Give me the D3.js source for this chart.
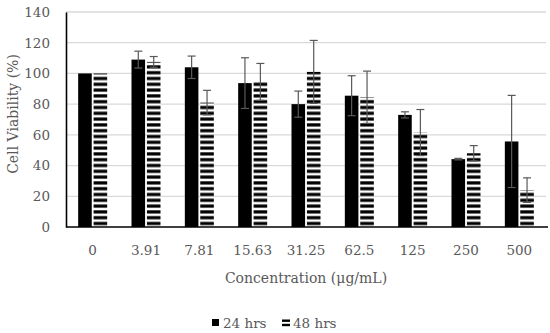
<!DOCTYPE html>
<html>
<head>
<meta charset="utf-8">
<script src="https://cdn.jsdelivr.net/npm/d3@7"></script>
<style>
  body { margin: 0; background: #fff; }
  text { font-family: "DejaVu Serif", serif; fill: #595959; }
</style>
</head>
<body>
<div id="chart"></div>
<script>
// data
var concentrations = ["0", "3.91", "7.81", "15.63", "31.25", "62.5", "125", "250", "500"];
var viability24 = [100, 109, 104, 93.7, 80, 85.5, 73, 44.2, 55.7];
var error24     = [0, 5.5, 7.3, 16.5, 8.5, 13, 2, 0.5, 30];
var viability48 = [100, 107.5, 81, 94.5, 101, 84.5, 61.5, 48, 24];
var error48     = [0, 3.5, 8, 12, 20.5, 17, 15, 5, 8];
var seriesNames = ["24 hrs", "48 hrs"];
var yTicks = [0, 20, 40, 60, 80, 100, 120, 140];

var data = concentrations.map(function(c, i) {
  return [
    {conc: c, series: seriesNames[0], value: viability24[i], err: error24[i]},
    {conc: c, series: seriesNames[1], value: viability48[i], err: error48[i]}
  ];
});

// set the dimensions and margins of the graph
var margin = {top: 12, right: 4, bottom: 106, left: 66},
  width = 550 - margin.left - margin.right,
  height = 333 - margin.top - margin.bottom;

var svg = d3.select("#chart").append("svg")
  .attr("width", 550)
  .attr("height", 333);

var defs = svg.append("defs");
var pat = defs.append("pattern")
  .attr("id", "stripes")
  .attr("patternUnits", "userSpaceOnUse")
  .attr("width", 8)
  .attr("height", 5.8)
  .attr("y", margin.top + height);
pat.append("rect").attr("width", 8).attr("height", 5.8).attr("fill", "#fff");
pat.append("rect").attr("y", 0.3).attr("width", 8).attr("height", 3.2).attr("fill", "#000");

var g = svg.append("g")
  .attr("transform", "translate(" + margin.left + "," + margin.top + ")");

// set the ranges
var x = d3.scaleBand()
  .domain(concentrations)
  .range([0, 480]);

var xs = d3.scaleBand()
  .domain(seriesNames)
  .range([x.bandwidth() / 2 - 14.5, x.bandwidth() / 2 + 14.5])
  .paddingInner(0.12);

var y = d3.scaleLinear()
  .domain([0, 140])
  .range([height, 0]);

// gridlines
g.selectAll(".grid")
  .data(yTicks.filter(function(d) { return d > 0; }))
  .enter().append("line")
  .attr("x1", 0)
  .attr("x2", 480)
  .attr("y1", function(d) { return y(d); })
  .attr("y2", function(d) { return y(d); })
  .attr("stroke", "#d9d9d9")
  .attr("stroke-width", 1.3);

// bars
var groups = g.selectAll(".grp")
  .data(data)
  .enter().append("g")
  .attr("transform", function(d) { return "translate(" + x(d[0].conc) + ",0)"; });

groups.selectAll("rect")
  .data(function(d) { return d; })
  .enter().append("rect")
  .attr("x", function(d) { return xs(d.series); })
  .attr("width", xs.bandwidth())
  .attr("y", function(d) { return y(d.value); })
  .attr("height", function(d) { return height - y(d.value); })
  .attr("fill", function(d) { return d.series === seriesNames[0] ? "#000" : "url(#stripes)"; });

// error bars
var eb = groups.selectAll(".err")
  .data(function(d) { return d.filter(function(e) { return e.err > 0; }); })
  .enter().append("g")
  .attr("stroke", "#595959")
  .attr("stroke-width", 1.2);

eb.append("line")
  .attr("x1", function(d) { return xs(d.series) + xs.bandwidth() / 2; })
  .attr("x2", function(d) { return xs(d.series) + xs.bandwidth() / 2; })
  .attr("y1", function(d) { return y(d.value + d.err); })
  .attr("y2", function(d) { return y(d.value - d.err); });

[1, -1].forEach(function(s) {
  eb.append("line")
    .attr("x1", function(d) { return xs(d.series) + xs.bandwidth() / 2 - 4; })
    .attr("x2", function(d) { return xs(d.series) + xs.bandwidth() / 2 + 4; })
    .attr("y1", function(d) { return y(d.value + s * d.err); })
    .attr("y2", function(d) { return y(d.value + s * d.err); });
});

// add the y Axis
var yAxis = g.append("g")
  .call(d3.axisLeft(y).tickValues(yTicks).tickSize(0).tickPadding(16));
yAxis.select(".domain").attr("stroke", "#000").attr("stroke-width", 1.6);
yAxis.selectAll("text").style("font-size", "13.5px").style("font-family", "DejaVu Serif").attr("fill", "#595959");

// add the x Axis
var xAxis = g.append("g")
  .attr("transform", "translate(0," + height + ")")
  .call(d3.axisBottom(x).tickSize(0).tickPadding(18));
xAxis.select(".domain").attr("stroke", "#000").attr("stroke-width", 1.6)
  .attr("d", "M0,0H482");
xAxis.selectAll("text").style("font-size", "13.5px").style("font-family", "DejaVu Serif").attr("fill", "#595959");

// axis titles
svg.append("text")
  .attr("x", margin.left + 240)
  .attr("y", 283)
  .attr("text-anchor", "middle")
  .style("font-size", "14px")
  .text("Concentration (\u03bcg/mL)");

svg.append("text")
  .attr("transform", "translate(18,114) rotate(-90)")
  .attr("text-anchor", "middle")
  .style("font-size", "14px")
  .text("Cell Viability (%)");

// legend
var legend = svg.append("g").attr("transform", "translate(212,323)");
var items = [
  {name: seriesNames[0], solid: true, x: 0},
  {name: seriesNames[1], solid: false, x: 70}
];
items.forEach(function(it) {
  var li = legend.append("g").attr("transform", "translate(" + it.x + ",0)");
  if (it.solid) {
    li.append("rect").attr("x", 0).attr("y", -4).attr("width", 7).attr("height", 7).attr("fill", "#000");
  } else {
    li.append("rect").attr("x", 0).attr("y", -3.5).attr("width", 8).attr("height", 2.4).attr("fill", "#000");
    li.append("rect").attr("x", 0).attr("y", 0.8).attr("width", 8).attr("height", 2.4).attr("fill", "#000");
  }
  li.append("text")
    .attr("x", 11)
    .attr("y", 4.5)
    .style("font-size", "13.5px")
    .text(it.name);
});
</script>
</body>
</html>
